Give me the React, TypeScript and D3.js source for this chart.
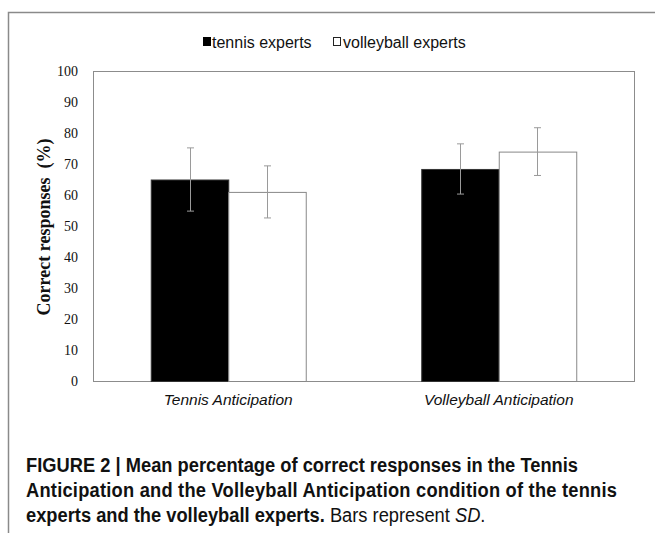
import React, { useRef, useEffect } from 'react';
import * as d3 from 'd3';

const conditions = ['Tennis Anticipation', 'Volleyball Anticipation'];
const groups = ['tennis experts', 'volleyball experts'];
const tennisMeans = [65, 68.4];
const volleyMeans = [61, 74];
const tennisSD = [10.2, 8.1];
const volleySD = [8.4, 7.7];
const yTicks = [0, 10, 20, 30, 40, 50, 60, 70, 80, 90, 100];

const W = 655;
const H = 533;

export default function App() {
  const svgRef = useRef<SVGSVGElement>(null);

  useEffect(() => {
    if (!svgRef.current) return;
    const svg = d3.select(svgRef.current);
    svg.selectAll('*').remove();

    const plot = { left: 93, right: 634, top: 71, bottom: 381 };

    // outer frame (top + left edges visible)
    svg.append('path')
      .attr('d', `M 8.5 ${H} L 8.5 12.5 L ${W} 12.5`)
      .attr('fill', 'none')
      .attr('stroke', '#8a8a8a')
      .attr('stroke-width', 1.5);

    const x0 = d3.scaleBand<string>()
      .domain(conditions)
      .range([plot.left, plot.right])
      .paddingInner(0.427)
      .paddingOuter(0.2135);
    const x1 = d3.scaleBand<string>()
      .domain(groups)
      .range([0, x0.bandwidth()]);
    const y = d3.scaleLinear().domain([0, 100]).range([plot.bottom, plot.top]);

    // plot frame
    svg.append('rect')
      .attr('x', plot.left + 0.5)
      .attr('y', plot.top + 0.5)
      .attr('width', plot.right - plot.left)
      .attr('height', plot.bottom - plot.top)
      .attr('fill', 'white')
      .attr('stroke', '#8c8c8c')
      .attr('stroke-width', 1);

    // y tick labels
    svg.append('g')
      .selectAll('text')
      .data(yTicks)
      .join('text')
      .attr('x', 78)
      .attr('y', d => y(d))
      .attr('text-anchor', 'end')
      .attr('dominant-baseline', 'central')
      .attr('font-family', '"Liberation Serif", "Times New Roman", serif')
      .attr('font-size', 14)
      .attr('fill', '#111')
      .text(d => d);

    // y axis title
    svg.append('text')
      .attr('transform', `translate(50, ${(plot.top + plot.bottom) / 2 + 1}) rotate(-90)`)
      .attr('text-anchor', 'middle')
      .attr('font-family', '"Liberation Serif", "Times New Roman", serif')
      .attr('font-weight', 'bold')
      .attr('font-size', 18)
      .attr('fill', '#111')
      .style('white-space', 'pre')
      .text('Correct responses  (%)');

    const rows = conditions.map((c, i) => ({
      c,
      vals: [
        { g: groups[0], v: tennisMeans[i], sd: tennisSD[i], fill: '#000' },
        { g: groups[1], v: volleyMeans[i], sd: volleySD[i], fill: '#fff' },
      ],
    }));

    const gg = svg.append('g');
    rows.forEach(r => {
      const gx = x0(r.c)!;
      r.vals.forEach(d => {
        const bx = gx + x1(d.g)!;
        gg.append('rect')
          .attr('x', bx + 0.5)
          .attr('y', y(d.v) + 0.5)
          .attr('width', x1.bandwidth())
          .attr('height', y(0) - y(d.v))
          .attr('fill', d.fill)
          .attr('stroke', d.fill === '#000' ? '#333' : '#888')
          .attr('stroke-width', 1);
      });
    });

    // error bars
    rows.forEach(r => {
      const gx = x0(r.c)!;
      r.vals.forEach(d => {
        const cx = Math.round(gx + x1(d.g)! + x1.bandwidth() / 2) + 0.5;
        const top = y(d.v + d.sd);
        const bot = y(d.v - d.sd);
        const eg = gg.append('g').attr('stroke', '#9a9a9a').attr('stroke-width', 1);
        eg.append('line').attr('x1', cx).attr('x2', cx).attr('y1', top).attr('y2', bot);
        eg.append('line').attr('x1', cx - 3.5).attr('x2', cx + 3.5).attr('y1', top).attr('y2', top);
        eg.append('line').attr('x1', cx - 3.5).attr('x2', cx + 3.5).attr('y1', bot).attr('y2', bot);
      });
    });

    // category labels
    svg.append('g')
      .selectAll('text')
      .data(conditions)
      .join('text')
      .attr('x', d => x0(d)! + x0.bandwidth() / 2)
      .attr('y', 405)
      .attr('text-anchor', 'middle')
      .attr('font-family', '"Liberation Sans", Arial, sans-serif')
      .attr('font-style', 'italic')
      .attr('font-size', 15.5)
      .attr('fill', '#111')
      .text(d => d);

    // legend
    const lg = svg.append('g').attr('font-family', '"Liberation Sans", Arial, sans-serif').attr('font-size', 16).attr('fill', '#111');
    lg.append('rect').attr('x', 203).attr('y', 37).attr('width', 8).attr('height', 9).attr('fill', '#000');
    lg.append('text').attr('x', 212).attr('y', 47.5).text(groups[0]);
    lg.append('rect').attr('x', 333.5).attr('y', 37.5).attr('width', 7).attr('height', 8).attr('fill', 'none').attr('stroke', '#222');
    lg.append('text').attr('x', 343).attr('y', 47.5).text(groups[1]);

    // caption (condensed look)
    const sx = 0.915;
    const cap = svg.append('g')
      .attr('transform', `translate(26,0) scale(${sx},1)`)
      .attr('font-family', '"Liberation Sans", Arial, sans-serif')
      .attr('font-size', 20)
      .attr('fill', '#111');
    cap.append('text').attr('x', 0).attr('y', 472).attr('font-weight', 'bold')
      .attr('textLength', 552 / sx).attr('lengthAdjust', 'spacing')
      .text('FIGURE 2 | Mean percentage of correct responses in the Tennis');
    cap.append('text').attr('x', 0).attr('y', 497).attr('font-weight', 'bold')
      .attr('textLength', 591 / sx).attr('lengthAdjust', 'spacing')
      .text('Anticipation and the Volleyball Anticipation condition of the tennis');
    const l3 = cap.append('text').attr('x', 0).attr('y', 522);
    l3.append('tspan').attr('font-weight', 'bold').text('experts and the volleyball experts.');
    l3.append('tspan').text(' Bars represent ');
    l3.append('tspan').attr('font-style', 'italic').text('SD');
    l3.append('tspan').text('.');
  }, []);

  return (
    <svg ref={svgRef} width={W} height={H}
      style={{ display: 'block', position: 'absolute', left: 0, top: 0, background: 'white' }} />
  );
}
